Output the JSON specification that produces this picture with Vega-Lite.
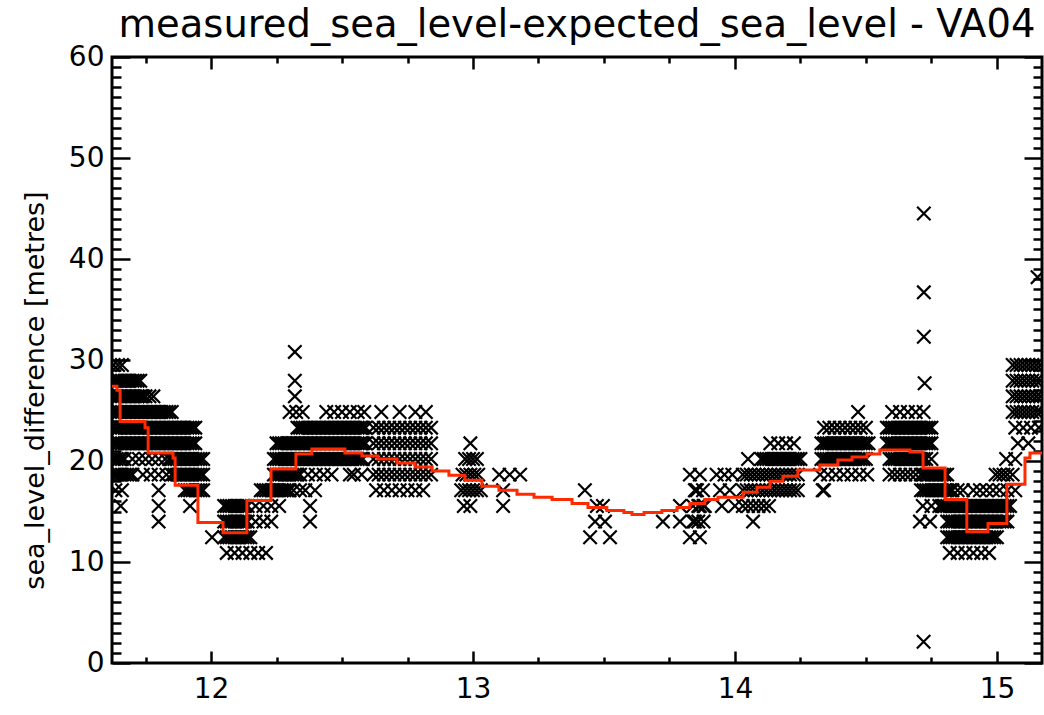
{
"$schema": "https://vega.github.io/schema/vega-lite/v6.json",
"width": 930, "height": 606,
"autosize": {"type": "none"},
"padding": {"left": 112, "top": 57, "right": 2, "bottom": 52},
"background": "white",
"config": {
  "view": {"stroke": "black", "strokeWidth": 3},
  "axis": {"domain": false, "grid": false, "tickColor": "black", "tickWidth": 2.5, "labelColor": "black", "titleColor": "black", "labelFont": "DejaVu Sans", "titleFont": "DejaVu Sans", "labelFontSize": 28, "titleFontWeight": "normal"}
},
"title": {"text": "measured_sea_level-expected_sea_level - VA04", "font": "DejaVu Sans", "fontSize": 38.5, "fontWeight": "normal", "color": "black", "anchor": "middle", "frame": "group", "baseline": "alphabetic", "offset": -32},
"datasets": {
"line": [{"t":11.622,"v":27.4},{"t":11.641,"v":27.0},{"t":11.653,"v":23.9},{"t":11.748,"v":23.3},{"t":11.760,"v":20.8},{"t":11.855,"v":20.3},{"t":11.863,"v":17.6},{"t":11.950,"v":13.9},{"t":12.046,"v":12.9},{"t":12.137,"v":16.1},{"t":12.229,"v":19.2},{"t":12.324,"v":20.7},{"t":12.385,"v":21.2},{"t":12.511,"v":20.8},{"t":12.576,"v":20.5},{"t":12.637,"v":20.2},{"t":12.710,"v":19.8},{"t":12.779,"v":19.4},{"t":12.844,"v":19.0},{"t":12.908,"v":18.6},{"t":12.969,"v":18.1},{"t":13.034,"v":17.5},{"t":13.099,"v":17.1},{"t":13.168,"v":16.7},{"t":13.233,"v":16.4},{"t":13.302,"v":16.2},{"t":13.378,"v":15.8},{"t":13.439,"v":15.4},{"t":13.511,"v":15.1},{"t":13.576,"v":14.9},{"t":13.607,"v":14.7},{"t":13.653,"v":14.9},{"t":13.721,"v":15.1},{"t":13.779,"v":15.4},{"t":13.828,"v":15.8},{"t":13.885,"v":16.2},{"t":13.935,"v":16.4},{"t":14.031,"v":16.9},{"t":14.084,"v":17.4},{"t":14.134,"v":18.0},{"t":14.183,"v":18.5},{"t":14.240,"v":19.1},{"t":14.324,"v":19.6},{"t":14.393,"v":20.1},{"t":14.447,"v":20.4},{"t":14.504,"v":20.7},{"t":14.553,"v":21.1},{"t":14.668,"v":20.9},{"t":14.718,"v":19.3},{"t":14.802,"v":16.2},{"t":14.885,"v":13.0},{"t":14.966,"v":13.8},{"t":15.038,"v":17.7},{"t":15.107,"v":20.3},{"t":15.126,"v":20.8},{"t":15.172,"v":20.8}],
"pts": [
{"t":11.628,"v":29.5},{"t":11.645,"v":29.5},{"t":11.66,"v":29.5},{"t":15.06,"v":29.5},{"t":15.075,"v":29.5},{"t":15.09,"v":29.5},{"t":15.105,"v":29.5},{"t":15.12,"v":29.5},{"t":15.135,"v":29.5},{"t":15.15,"v":29.5},{"t":15.165,"v":29.5},
{"t":11.63,"v":27.95},{"t":11.64,"v":27.95},{"t":11.65,"v":27.95},{"t":11.66,"v":27.95},{"t":11.67,"v":27.95},{"t":11.68,"v":27.95},{"t":11.69,"v":27.95},{"t":11.7,"v":27.95},{"t":11.71,"v":27.95},{"t":11.72,"v":27.95},{"t":11.73,"v":27.95},{"t":12.32,"v":27.95},{"t":15.06,"v":27.95},{"t":15.075,"v":27.95},{"t":15.09,"v":27.95},{"t":15.105,"v":27.95},{"t":15.12,"v":27.95},{"t":15.135,"v":27.95},{"t":15.15,"v":27.95},{"t":15.165,"v":27.95},
{"t":11.63,"v":26.4},{"t":11.64,"v":26.4},{"t":11.65,"v":26.4},{"t":11.66,"v":26.4},{"t":11.67,"v":26.4},{"t":11.68,"v":26.4},{"t":11.69,"v":26.4},{"t":11.7,"v":26.4},{"t":11.71,"v":26.4},{"t":11.72,"v":26.4},{"t":11.73,"v":26.4},{"t":11.74,"v":26.4},{"t":11.75,"v":26.4},{"t":11.765,"v":26.4},{"t":11.78,"v":26.4},{"t":12.32,"v":26.4},{"t":15.06,"v":26.4},{"t":15.075,"v":26.4},{"t":15.09,"v":26.4},{"t":15.105,"v":26.4},{"t":15.12,"v":26.4},{"t":15.135,"v":26.4},{"t":15.15,"v":26.4},{"t":15.165,"v":26.4},
{"t":11.63,"v":24.85},{"t":11.64,"v":24.85},{"t":11.65,"v":24.85},{"t":11.66,"v":24.85},{"t":11.67,"v":24.85},{"t":11.68,"v":24.85},{"t":11.69,"v":24.85},{"t":11.7,"v":24.85},{"t":11.71,"v":24.85},{"t":11.72,"v":24.85},{"t":11.73,"v":24.85},{"t":11.74,"v":24.85},{"t":11.75,"v":24.85},{"t":11.76,"v":24.85},{"t":11.77,"v":24.85},{"t":11.78,"v":24.85},{"t":11.79,"v":24.85},{"t":11.8,"v":24.85},{"t":11.81,"v":24.85},{"t":11.82,"v":24.85},{"t":11.83,"v":24.85},{"t":11.84,"v":24.85},{"t":11.85,"v":24.85},
{"t":12.3,"v":24.85},{"t":12.325,"v":24.85},{"t":12.35,"v":24.85},{"t":12.44,"v":24.85},{"t":12.47,"v":24.85},{"t":12.5,"v":24.85},{"t":12.53,"v":24.85},{"t":12.56,"v":24.85},{"t":12.585,"v":24.85},{"t":12.65,"v":24.85},{"t":12.72,"v":24.85},{"t":12.78,"v":24.85},{"t":12.82,"v":24.85},{"t":14.47,"v":24.85},{"t":14.6,"v":24.85},{"t":14.63,"v":24.85},{"t":14.66,"v":24.85},{"t":14.69,"v":24.85},{"t":14.72,"v":24.85},{"t":15.06,"v":24.85},{"t":15.075,"v":24.85},{"t":15.09,"v":24.85},{"t":15.105,"v":24.85},{"t":15.12,"v":24.85},{"t":15.135,"v":24.85},{"t":15.15,"v":24.85},{"t":15.165,"v":24.85},
{"t":11.63,"v":23.3},{"t":11.64,"v":23.3},{"t":11.65,"v":23.3},{"t":11.66,"v":23.3},{"t":11.67,"v":23.3},{"t":11.68,"v":23.3},{"t":11.69,"v":23.3},{"t":11.7,"v":23.3},{"t":11.71,"v":23.3},{"t":11.72,"v":23.3},{"t":11.73,"v":23.3},{"t":11.74,"v":23.3},{"t":11.75,"v":23.3},{"t":11.76,"v":23.3},{"t":11.77,"v":23.3},{"t":11.78,"v":23.3},{"t":11.79,"v":23.3},{"t":11.8,"v":23.3},{"t":11.81,"v":23.3},{"t":11.82,"v":23.3},{"t":11.83,"v":23.3},{"t":11.84,"v":23.3},{"t":11.85,"v":23.3},{"t":11.86,"v":23.3},{"t":11.87,"v":23.3},{"t":11.88,"v":23.3},{"t":11.89,"v":23.3},{"t":11.9,"v":23.3},{"t":11.91,"v":23.3},{"t":11.92,"v":23.3},{"t":11.93,"v":23.3},{"t":11.94,"v":23.3},
{"t":12.33,"v":23.3},{"t":12.34,"v":23.3},{"t":12.35,"v":23.3},{"t":12.36,"v":23.3},{"t":12.37,"v":23.3},{"t":12.38,"v":23.3},{"t":12.39,"v":23.3},{"t":12.4,"v":23.3},{"t":12.41,"v":23.3},{"t":12.42,"v":23.3},{"t":12.43,"v":23.3},{"t":12.44,"v":23.3},{"t":12.45,"v":23.3},{"t":12.46,"v":23.3},{"t":12.47,"v":23.3},{"t":12.48,"v":23.3},{"t":12.49,"v":23.3},{"t":12.5,"v":23.3},{"t":12.51,"v":23.3},{"t":12.52,"v":23.3},{"t":12.53,"v":23.3},{"t":12.54,"v":23.3},{"t":12.55,"v":23.3},{"t":12.56,"v":23.3},{"t":12.57,"v":23.3},{"t":12.58,"v":23.3},{"t":12.59,"v":23.3},
{"t":12.62,"v":23.3},{"t":12.64,"v":23.3},{"t":12.66,"v":23.3},{"t":12.68,"v":23.3},{"t":12.7,"v":23.3},{"t":12.72,"v":23.3},{"t":12.74,"v":23.3},{"t":12.76,"v":23.3},{"t":12.78,"v":23.3},{"t":12.8,"v":23.3},{"t":12.82,"v":23.3},{"t":12.84,"v":23.3},
{"t":14.34,"v":23.3},{"t":14.36,"v":23.3},{"t":14.38,"v":23.3},{"t":14.4,"v":23.3},{"t":14.42,"v":23.3},{"t":14.44,"v":23.3},{"t":14.46,"v":23.3},{"t":14.48,"v":23.3},{"t":14.5,"v":23.3},
{"t":14.58,"v":23.3},{"t":14.59,"v":23.3},{"t":14.6,"v":23.3},{"t":14.61,"v":23.3},{"t":14.62,"v":23.3},{"t":14.63,"v":23.3},{"t":14.64,"v":23.3},{"t":14.65,"v":23.3},{"t":14.66,"v":23.3},{"t":14.67,"v":23.3},{"t":14.68,"v":23.3},{"t":14.69,"v":23.3},{"t":14.7,"v":23.3},{"t":14.71,"v":23.3},{"t":14.72,"v":23.3},{"t":14.73,"v":23.3},{"t":14.74,"v":23.3},{"t":14.75,"v":23.3},
{"t":15.07,"v":23.3},{"t":15.1,"v":23.3},{"t":15.13,"v":23.3},{"t":15.16,"v":23.3},
{"t":11.63,"v":21.75},{"t":11.64,"v":21.75},{"t":11.65,"v":21.75},{"t":11.66,"v":21.75},{"t":11.67,"v":21.75},{"t":11.68,"v":21.75},{"t":11.69,"v":21.75},{"t":11.7,"v":21.75},{"t":11.71,"v":21.75},{"t":11.72,"v":21.75},{"t":11.73,"v":21.75},{"t":11.74,"v":21.75},{"t":11.75,"v":21.75},{"t":11.76,"v":21.75},{"t":11.77,"v":21.75},{"t":11.78,"v":21.75},{"t":11.79,"v":21.75},{"t":11.8,"v":21.75},{"t":11.81,"v":21.75},{"t":11.82,"v":21.75},{"t":11.83,"v":21.75},{"t":11.84,"v":21.75},{"t":11.85,"v":21.75},{"t":11.86,"v":21.75},{"t":11.87,"v":21.75},{"t":11.88,"v":21.75},{"t":11.89,"v":21.75},{"t":11.9,"v":21.75},{"t":11.91,"v":21.75},{"t":11.92,"v":21.75},{"t":11.93,"v":21.75},{"t":11.94,"v":21.75},
{"t":12.25,"v":21.75},{"t":12.26,"v":21.75},{"t":12.27,"v":21.75},{"t":12.28,"v":21.75},{"t":12.29,"v":21.75},{"t":12.3,"v":21.75},{"t":12.31,"v":21.75},{"t":12.32,"v":21.75},{"t":12.33,"v":21.75},{"t":12.34,"v":21.75},{"t":12.35,"v":21.75},{"t":12.36,"v":21.75},{"t":12.37,"v":21.75},{"t":12.38,"v":21.75},{"t":12.39,"v":21.75},{"t":12.4,"v":21.75},{"t":12.41,"v":21.75},{"t":12.42,"v":21.75},{"t":12.43,"v":21.75},{"t":12.44,"v":21.75},{"t":12.45,"v":21.75},{"t":12.46,"v":21.75},{"t":12.47,"v":21.75},{"t":12.48,"v":21.75},{"t":12.49,"v":21.75},{"t":12.5,"v":21.75},{"t":12.51,"v":21.75},{"t":12.52,"v":21.75},{"t":12.53,"v":21.75},{"t":12.54,"v":21.75},{"t":12.55,"v":21.75},{"t":12.56,"v":21.75},{"t":12.57,"v":21.75},{"t":12.58,"v":21.75},{"t":12.59,"v":21.75},
{"t":12.62,"v":21.75},{"t":12.64,"v":21.75},{"t":12.66,"v":21.75},{"t":12.68,"v":21.75},{"t":12.7,"v":21.75},{"t":12.72,"v":21.75},{"t":12.74,"v":21.75},{"t":12.76,"v":21.75},{"t":12.78,"v":21.75},{"t":12.8,"v":21.75},{"t":12.82,"v":21.75},{"t":12.84,"v":21.75},
{"t":12.99,"v":21.75},{"t":14.135,"v":21.75},{"t":14.165,"v":21.75},{"t":14.195,"v":21.75},{"t":14.225,"v":21.75},
{"t":14.33,"v":21.75},{"t":14.34,"v":21.75},{"t":14.35,"v":21.75},{"t":14.36,"v":21.75},{"t":14.37,"v":21.75},{"t":14.38,"v":21.75},{"t":14.39,"v":21.75},{"t":14.4,"v":21.75},{"t":14.41,"v":21.75},{"t":14.42,"v":21.75},{"t":14.43,"v":21.75},{"t":14.44,"v":21.75},{"t":14.45,"v":21.75},{"t":14.46,"v":21.75},{"t":14.47,"v":21.75},{"t":14.48,"v":21.75},{"t":14.49,"v":21.75},{"t":14.5,"v":21.75},{"t":14.51,"v":21.75},
{"t":14.58,"v":21.75},{"t":14.59,"v":21.75},{"t":14.6,"v":21.75},{"t":14.61,"v":21.75},{"t":14.62,"v":21.75},{"t":14.63,"v":21.75},{"t":14.64,"v":21.75},{"t":14.65,"v":21.75},{"t":14.66,"v":21.75},{"t":14.67,"v":21.75},{"t":14.68,"v":21.75},{"t":14.69,"v":21.75},{"t":14.7,"v":21.75},{"t":14.71,"v":21.75},{"t":14.72,"v":21.75},{"t":14.73,"v":21.75},{"t":14.74,"v":21.75},{"t":14.75,"v":21.75},
{"t":15.08,"v":21.75},{"t":15.12,"v":21.75},
{"t":11.63,"v":20.2},{"t":11.64,"v":20.2},{"t":11.65,"v":20.2},{"t":11.66,"v":20.2},{"t":11.67,"v":20.2},{"t":11.7,"v":20.2},{"t":11.725,"v":20.2},{"t":11.75,"v":20.2},{"t":11.775,"v":20.2},{"t":11.8,"v":20.2},{"t":11.825,"v":20.2},
{"t":11.84,"v":20.2},{"t":11.85,"v":20.2},{"t":11.86,"v":20.2},{"t":11.87,"v":20.2},{"t":11.88,"v":20.2},{"t":11.89,"v":20.2},{"t":11.9,"v":20.2},{"t":11.91,"v":20.2},{"t":11.92,"v":20.2},{"t":11.93,"v":20.2},{"t":11.94,"v":20.2},{"t":11.95,"v":20.2},{"t":11.96,"v":20.2},{"t":11.97,"v":20.2},
{"t":12.24,"v":20.2},{"t":12.25,"v":20.2},{"t":12.26,"v":20.2},{"t":12.27,"v":20.2},{"t":12.28,"v":20.2},{"t":12.29,"v":20.2},{"t":12.3,"v":20.2},{"t":12.31,"v":20.2},{"t":12.32,"v":20.2},{"t":12.33,"v":20.2},{"t":12.34,"v":20.2},{"t":12.35,"v":20.2},{"t":12.36,"v":20.2},{"t":12.37,"v":20.2},{"t":12.38,"v":20.2},{"t":12.39,"v":20.2},{"t":12.4,"v":20.2},{"t":12.41,"v":20.2},{"t":12.42,"v":20.2},{"t":12.43,"v":20.2},{"t":12.44,"v":20.2},{"t":12.45,"v":20.2},{"t":12.46,"v":20.2},{"t":12.47,"v":20.2},{"t":12.48,"v":20.2},{"t":12.49,"v":20.2},{"t":12.5,"v":20.2},{"t":12.51,"v":20.2},{"t":12.52,"v":20.2},{"t":12.53,"v":20.2},{"t":12.54,"v":20.2},{"t":12.55,"v":20.2},{"t":12.56,"v":20.2},{"t":12.57,"v":20.2},{"t":12.58,"v":20.2},
{"t":12.62,"v":20.2},{"t":12.64,"v":20.2},{"t":12.66,"v":20.2},{"t":12.68,"v":20.2},{"t":12.7,"v":20.2},{"t":12.72,"v":20.2},{"t":12.74,"v":20.2},{"t":12.76,"v":20.2},{"t":12.78,"v":20.2},{"t":12.8,"v":20.2},{"t":12.82,"v":20.2},{"t":12.84,"v":20.2},
{"t":12.97,"v":20.2},{"t":12.985,"v":20.2},{"t":13.0,"v":20.2},{"t":13.015,"v":20.2},{"t":14.05,"v":20.2},
{"t":14.1,"v":20.2},{"t":14.11,"v":20.2},{"t":14.12,"v":20.2},{"t":14.13,"v":20.2},{"t":14.14,"v":20.2},{"t":14.15,"v":20.2},{"t":14.16,"v":20.2},{"t":14.17,"v":20.2},{"t":14.18,"v":20.2},{"t":14.19,"v":20.2},{"t":14.2,"v":20.2},{"t":14.21,"v":20.2},{"t":14.22,"v":20.2},{"t":14.23,"v":20.2},{"t":14.24,"v":20.2},{"t":14.25,"v":20.2},
{"t":14.33,"v":20.2},{"t":14.34,"v":20.2},{"t":14.35,"v":20.2},{"t":14.36,"v":20.2},{"t":14.37,"v":20.2},{"t":14.38,"v":20.2},{"t":14.39,"v":20.2},{"t":14.4,"v":20.2},{"t":14.41,"v":20.2},{"t":14.42,"v":20.2},{"t":14.43,"v":20.2},{"t":14.44,"v":20.2},{"t":14.45,"v":20.2},{"t":14.46,"v":20.2},{"t":14.47,"v":20.2},{"t":14.48,"v":20.2},{"t":14.49,"v":20.2},{"t":14.5,"v":20.2},
{"t":14.59,"v":20.2},{"t":14.6,"v":20.2},{"t":14.61,"v":20.2},{"t":14.62,"v":20.2},{"t":14.63,"v":20.2},{"t":14.64,"v":20.2},{"t":14.65,"v":20.2},{"t":14.66,"v":20.2},{"t":14.67,"v":20.2},{"t":14.68,"v":20.2},{"t":14.69,"v":20.2},{"t":14.7,"v":20.2},{"t":14.71,"v":20.2},{"t":14.72,"v":20.2},{"t":14.73,"v":20.2},{"t":14.75,"v":20.2},{"t":15.035,"v":20.2},{"t":15.07,"v":20.2},
{"t":11.63,"v":18.65},{"t":11.64,"v":18.65},{"t":11.65,"v":18.65},{"t":11.66,"v":18.65},{"t":11.67,"v":18.65},{"t":11.68,"v":18.65},{"t":11.69,"v":18.65},{"t":11.7,"v":18.65},{"t":11.74,"v":18.65},{"t":11.77,"v":18.65},{"t":11.8,"v":18.65},{"t":11.83,"v":18.65},
{"t":11.85,"v":18.65},{"t":11.86,"v":18.65},{"t":11.87,"v":18.65},{"t":11.88,"v":18.65},{"t":11.89,"v":18.65},{"t":11.9,"v":18.65},{"t":11.91,"v":18.65},{"t":11.92,"v":18.65},{"t":11.93,"v":18.65},{"t":11.94,"v":18.65},{"t":11.95,"v":18.65},{"t":11.96,"v":18.65},{"t":11.97,"v":18.65},
{"t":12.24,"v":18.65},{"t":12.25,"v":18.65},{"t":12.26,"v":18.65},{"t":12.27,"v":18.65},{"t":12.28,"v":18.65},{"t":12.29,"v":18.65},{"t":12.3,"v":18.65},{"t":12.31,"v":18.65},{"t":12.32,"v":18.65},{"t":12.33,"v":18.65},{"t":12.34,"v":18.65},{"t":12.37,"v":18.65},{"t":12.4,"v":18.65},{"t":12.43,"v":18.65},{"t":12.46,"v":18.65},{"t":12.53,"v":18.65},{"t":12.545,"v":18.65},{"t":12.575,"v":18.65},
{"t":12.62,"v":18.65},{"t":12.64,"v":18.65},{"t":12.66,"v":18.65},{"t":12.68,"v":18.65},{"t":12.7,"v":18.65},{"t":12.72,"v":18.65},{"t":12.74,"v":18.65},{"t":12.76,"v":18.65},{"t":12.78,"v":18.65},{"t":12.8,"v":18.65},{"t":12.82,"v":18.65},{"t":12.84,"v":18.65},
{"t":12.96,"v":18.65},{"t":12.975,"v":18.65},{"t":12.99,"v":18.65},{"t":13.005,"v":18.65},{"t":13.02,"v":18.65},{"t":13.1,"v":18.65},{"t":13.14,"v":18.65},{"t":13.18,"v":18.65},{"t":13.828,"v":18.65},{"t":13.866,"v":18.65},{"t":13.93,"v":18.65},{"t":13.96,"v":18.65},{"t":13.99,"v":18.65},
{"t":14.03,"v":18.65},{"t":14.045,"v":18.65},{"t":14.06,"v":18.65},{"t":14.075,"v":18.65},{"t":14.09,"v":18.65},{"t":14.105,"v":18.65},{"t":14.12,"v":18.65},{"t":14.135,"v":18.65},{"t":14.15,"v":18.65},{"t":14.165,"v":18.65},{"t":14.18,"v":18.65},{"t":14.195,"v":18.65},{"t":14.21,"v":18.65},{"t":14.225,"v":18.65},{"t":14.24,"v":18.65},
{"t":14.325,"v":18.65},{"t":14.355,"v":18.65},{"t":14.385,"v":18.65},{"t":14.415,"v":18.65},{"t":14.445,"v":18.65},{"t":14.475,"v":18.65},{"t":14.505,"v":18.65},
{"t":14.59,"v":18.65},{"t":14.61,"v":18.65},{"t":14.63,"v":18.65},{"t":14.65,"v":18.65},{"t":14.67,"v":18.65},{"t":14.69,"v":18.65},
{"t":14.71,"v":18.65},{"t":14.72,"v":18.65},{"t":14.73,"v":18.65},{"t":14.74,"v":18.65},{"t":14.75,"v":18.65},{"t":14.76,"v":18.65},{"t":14.77,"v":18.65},{"t":14.78,"v":18.65},{"t":14.79,"v":18.65},{"t":14.8,"v":18.65},{"t":14.81,"v":18.65},
{"t":14.995,"v":18.65},{"t":15.01,"v":18.65},{"t":15.025,"v":18.65},{"t":15.04,"v":18.65},{"t":15.06,"v":18.65},
{"t":11.635,"v":17.1},{"t":11.66,"v":17.1},{"t":11.8,"v":17.1},{"t":11.9,"v":17.1},{"t":11.91,"v":17.1},{"t":11.92,"v":17.1},{"t":11.93,"v":17.1},{"t":11.94,"v":17.1},{"t":11.95,"v":17.1},{"t":11.96,"v":17.1},{"t":11.97,"v":17.1},
{"t":12.19,"v":17.1},{"t":12.2,"v":17.1},{"t":12.21,"v":17.1},{"t":12.22,"v":17.1},{"t":12.23,"v":17.1},{"t":12.24,"v":17.1},{"t":12.25,"v":17.1},{"t":12.26,"v":17.1},{"t":12.27,"v":17.1},{"t":12.28,"v":17.1},{"t":12.29,"v":17.1},{"t":12.3,"v":17.1},{"t":12.315,"v":17.1},{"t":12.34,"v":17.1},{"t":12.36,"v":17.1},{"t":12.397,"v":17.1},
{"t":12.63,"v":17.1},{"t":12.66,"v":17.1},{"t":12.69,"v":17.1},{"t":12.72,"v":17.1},{"t":12.75,"v":17.1},{"t":12.78,"v":17.1},{"t":12.81,"v":17.1},
{"t":12.955,"v":17.1},{"t":12.97,"v":17.1},{"t":12.985,"v":17.1},{"t":13.0,"v":17.1},{"t":13.015,"v":17.1},{"t":13.03,"v":17.1},{"t":13.115,"v":17.1},{"t":13.427,"v":17.1},{"t":13.847,"v":17.1},{"t":13.85,"v":17.1},{"t":13.855,"v":17.1},{"t":13.878,"v":17.1},{"t":13.943,"v":17.1},{"t":13.98,"v":17.1},
{"t":14.03,"v":17.1},{"t":14.045,"v":17.1},{"t":14.06,"v":17.1},{"t":14.075,"v":17.1},{"t":14.09,"v":17.1},{"t":14.105,"v":17.1},{"t":14.12,"v":17.1},{"t":14.135,"v":17.1},{"t":14.15,"v":17.1},{"t":14.165,"v":17.1},{"t":14.18,"v":17.1},{"t":14.195,"v":17.1},{"t":14.21,"v":17.1},{"t":14.225,"v":17.1},{"t":14.24,"v":17.1},{"t":14.335,"v":17.1},{"t":14.34,"v":17.1},
{"t":14.71,"v":17.1},{"t":14.72,"v":17.1},{"t":14.73,"v":17.1},{"t":14.74,"v":17.1},{"t":14.75,"v":17.1},{"t":14.76,"v":17.1},{"t":14.77,"v":17.1},{"t":14.78,"v":17.1},{"t":14.79,"v":17.1},{"t":14.8,"v":17.1},{"t":14.81,"v":17.1},{"t":14.82,"v":17.1},{"t":14.83,"v":17.1},{"t":14.85,"v":17.1},{"t":14.87,"v":17.1},{"t":14.91,"v":17.1},{"t":14.935,"v":17.1},{"t":14.96,"v":17.1},{"t":14.985,"v":17.1},{"t":15.01,"v":17.1},{"t":15.04,"v":17.1},{"t":15.07,"v":17.1},
{"t":11.655,"v":15.55},{"t":11.8,"v":15.55},{"t":11.92,"v":15.55},{"t":12.05,"v":15.55},{"t":12.06,"v":15.55},{"t":12.07,"v":15.55},{"t":12.08,"v":15.55},{"t":12.09,"v":15.55},{"t":12.1,"v":15.55},{"t":12.11,"v":15.55},{"t":12.12,"v":15.55},{"t":12.13,"v":15.55},{"t":12.14,"v":15.55},{"t":12.17,"v":15.55},{"t":12.2,"v":15.55},{"t":12.23,"v":15.55},{"t":12.26,"v":15.55},{"t":12.378,"v":15.55},
{"t":12.965,"v":15.55},{"t":12.99,"v":15.55},{"t":13.115,"v":15.55},{"t":13.473,"v":15.55},{"t":13.496,"v":15.55},{"t":13.79,"v":15.55},{"t":13.84,"v":15.55},{"t":13.86,"v":15.55},{"t":13.866,"v":15.55},{"t":13.88,"v":15.55},{"t":13.885,"v":15.55},{"t":13.95,"v":15.55},{"t":14.0,"v":15.55},
{"t":14.03,"v":15.55},{"t":14.05,"v":15.55},{"t":14.07,"v":15.55},{"t":14.09,"v":15.55},{"t":14.11,"v":15.55},{"t":14.13,"v":15.55},{"t":14.717,"v":15.55},{"t":14.75,"v":15.55},
{"t":14.78,"v":15.55},{"t":14.79,"v":15.55},{"t":14.8,"v":15.55},{"t":14.81,"v":15.55},{"t":14.82,"v":15.55},{"t":14.83,"v":15.55},{"t":14.84,"v":15.55},{"t":14.85,"v":15.55},{"t":14.86,"v":15.55},{"t":14.87,"v":15.55},{"t":14.88,"v":15.55},{"t":14.89,"v":15.55},{"t":14.9,"v":15.55},{"t":14.91,"v":15.55},{"t":14.92,"v":15.55},{"t":14.93,"v":15.55},{"t":14.94,"v":15.55},{"t":14.95,"v":15.55},{"t":14.96,"v":15.55},{"t":14.97,"v":15.55},{"t":14.98,"v":15.55},{"t":14.99,"v":15.55},{"t":15.0,"v":15.55},{"t":15.01,"v":15.55},{"t":15.02,"v":15.55},{"t":15.03,"v":15.55},{"t":15.04,"v":15.55},{"t":15.05,"v":15.55},
{"t":11.8,"v":14.0},{"t":12.05,"v":14.0},{"t":12.06,"v":14.0},{"t":12.07,"v":14.0},{"t":12.08,"v":14.0},{"t":12.09,"v":14.0},{"t":12.1,"v":14.0},{"t":12.11,"v":14.0},{"t":12.12,"v":14.0},{"t":12.13,"v":14.0},{"t":12.14,"v":14.0},{"t":12.17,"v":14.0},{"t":12.2,"v":14.0},{"t":12.23,"v":14.0},{"t":12.378,"v":14.0},
{"t":13.466,"v":14.0},{"t":13.504,"v":14.0},{"t":13.725,"v":14.0},{"t":13.79,"v":14.0},{"t":13.84,"v":14.0},{"t":13.847,"v":14.0},{"t":13.86,"v":14.0},{"t":13.88,"v":14.0},{"t":14.069,"v":14.0},{"t":14.706,"v":14.0},{"t":14.745,"v":14.0},
{"t":14.81,"v":14.0},{"t":14.82,"v":14.0},{"t":14.83,"v":14.0},{"t":14.84,"v":14.0},{"t":14.85,"v":14.0},{"t":14.86,"v":14.0},{"t":14.87,"v":14.0},{"t":14.88,"v":14.0},{"t":14.89,"v":14.0},{"t":14.9,"v":14.0},{"t":14.91,"v":14.0},{"t":14.92,"v":14.0},{"t":14.93,"v":14.0},{"t":14.94,"v":14.0},{"t":14.95,"v":14.0},{"t":14.96,"v":14.0},{"t":14.97,"v":14.0},{"t":14.98,"v":14.0},{"t":14.99,"v":14.0},{"t":15.0,"v":14.0},{"t":15.01,"v":14.0},{"t":15.02,"v":14.0},{"t":15.03,"v":14.0},{"t":15.04,"v":14.0},
{"t":12.004,"v":12.45},{"t":12.05,"v":12.45},{"t":12.06,"v":12.45},{"t":12.07,"v":12.45},{"t":12.08,"v":12.45},{"t":12.09,"v":12.45},{"t":12.1,"v":12.45},{"t":12.11,"v":12.45},{"t":12.12,"v":12.45},{"t":12.13,"v":12.45},{"t":12.14,"v":12.45},{"t":12.15,"v":12.45},{"t":13.447,"v":12.45},{"t":13.523,"v":12.45},{"t":13.828,"v":12.45},{"t":13.866,"v":12.45},
{"t":14.81,"v":12.45},{"t":14.82,"v":12.45},{"t":14.83,"v":12.45},{"t":14.84,"v":12.45},{"t":14.85,"v":12.45},{"t":14.86,"v":12.45},{"t":14.87,"v":12.45},{"t":14.88,"v":12.45},{"t":14.89,"v":12.45},{"t":14.9,"v":12.45},{"t":14.91,"v":12.45},{"t":14.92,"v":12.45},{"t":14.93,"v":12.45},{"t":14.94,"v":12.45},{"t":14.95,"v":12.45},{"t":14.96,"v":12.45},{"t":14.97,"v":12.45},{"t":14.98,"v":12.45},{"t":14.99,"v":12.45},{"t":15.0,"v":12.45},
{"t":12.06,"v":10.9},{"t":12.09,"v":10.9},{"t":12.12,"v":10.9},{"t":12.15,"v":10.9},{"t":12.18,"v":10.9},{"t":12.21,"v":10.9},{"t":14.82,"v":10.9},{"t":14.85,"v":10.9},{"t":14.88,"v":10.9},{"t":14.91,"v":10.9},{"t":14.94,"v":10.9},{"t":14.97,"v":10.9},
{"t":12.32,"v":30.8},{"t":14.721,"v":44.5},{"t":14.721,"v":36.7},{"t":14.721,"v":32.3},{"t":14.724,"v":27.7},{"t":14.72,"v":2.1},{"t":15.155,"v":38.2}
]
},
"resolve": {"axis": {"x": "independent", "y": "independent"}},
"layer": [
{
  "data": {"name": "pts"},
  "mark": {"type": "point", "shape": "M-1,-1L1,1M-1,1L1,-1", "size": 180, "filled": false, "color": "black", "strokeWidth": 2.2, "opacity": 1, "clip": true},
  "encoding": {
    "x": {"field": "t", "type": "quantitative", "scale": {"domain": [11.622, 15.172], "nice": false, "zero": false},
      "axis": {"orient": "bottom", "values": [12, 13, 14, 15], "ticks": false, "labelPadding": 12, "title": null, "labelFlush": false}},
    "y": {"field": "v", "type": "quantitative", "scale": {"domain": [0, 60], "nice": false, "zero": false},
      "axis": {"orient": "left", "values": [0, 10, 20, 30, 40, 50, 60], "ticks": false, "labelPadding": 8, "labelBaseline": "middle",
        "title": "sea_level_difference [metres]", "titleFontSize": 27, "titleX": -77, "titleY": 333, "titleAngle": -90, "titleAlign": "center", "titleBaseline": "middle"}}
  }
},
{
  "data": {"name": "line"},
  "mark": {"type": "line", "interpolate": "step-after", "color": "#ff2a00", "strokeWidth": 3, "clip": true},
  "encoding": {
    "x": {"field": "t", "type": "quantitative", "scale": {"domain": [11.622, 15.172], "nice": false, "zero": false},
      "axis": {"orient": "bottom", "values": [12, 13, 14, 15], "labels": false, "tickSize": -12, "title": null}},
    "y": {"field": "v", "type": "quantitative", "scale": {"domain": [0, 60], "nice": false, "zero": false},
      "axis": {"orient": "left", "values": [0, 10, 20, 30, 40, 50, 60], "labels": false, "tickSize": -18, "title": null}}
  }
},
{
  "data": {"name": "line"},
  "mark": {"type": "point", "opacity": 0},
  "encoding": {
    "x": {"field": "t", "type": "quantitative", "scale": {"domain": [11.622, 15.172], "nice": false, "zero": false},
      "axis": {"orient": "bottom", "values": [11.75, 12.25, 12.5, 12.75, 13.25, 13.5, 13.75, 14.25, 14.5, 14.75], "labels": false, "tickSize": -6, "title": null}},
    "y": {"field": "v", "type": "quantitative", "scale": {"domain": [0, 60], "nice": false, "zero": false},
      "axis": {"orient": "left", "values": [1,2,3,4,5,6,7,8,9,11,12,13,14,15,16,17,18,19,21,22,23,24,25,26,27,28,29,31,32,33,34,35,36,37,38,39,41,42,43,44,45,46,47,48,49,51,52,53,54,55,56,57,58,59], "labels": false, "tickSize": -9, "title": null}}
  }
},
{
  "data": {"name": "line"},
  "mark": {"type": "point", "opacity": 0},
  "encoding": {
    "x": {"field": "t", "type": "quantitative", "scale": {"domain": [11.622, 15.172], "nice": false, "zero": false},
      "axis": {"orient": "top", "values": [12, 13, 14, 15], "labels": false, "tickSize": -12, "title": null}},
    "y": {"field": "v", "type": "quantitative", "scale": {"domain": [0, 60], "nice": false, "zero": false},
      "axis": {"orient": "right", "values": [0, 10, 20, 30, 40, 50, 60], "labels": false, "tickSize": -18, "title": null}}
  }
},
{
  "data": {"name": "line"},
  "mark": {"type": "point", "opacity": 0},
  "encoding": {
    "x": {"field": "t", "type": "quantitative", "scale": {"domain": [11.622, 15.172], "nice": false, "zero": false},
      "axis": {"orient": "top", "values": [11.75, 12.25, 12.5, 12.75, 13.25, 13.5, 13.75, 14.25, 14.5, 14.75], "labels": false, "tickSize": -6, "title": null}},
    "y": {"field": "v", "type": "quantitative", "scale": {"domain": [0, 60], "nice": false, "zero": false},
      "axis": {"orient": "right", "values": [1,2,3,4,5,6,7,8,9,11,12,13,14,15,16,17,18,19,21,22,23,24,25,26,27,28,29,31,32,33,34,35,36,37,38,39,41,42,43,44,45,46,47,48,49,51,52,53,54,55,56,57,58,59], "labels": false, "tickSize": -9, "title": null}}
  }
}
]
}
